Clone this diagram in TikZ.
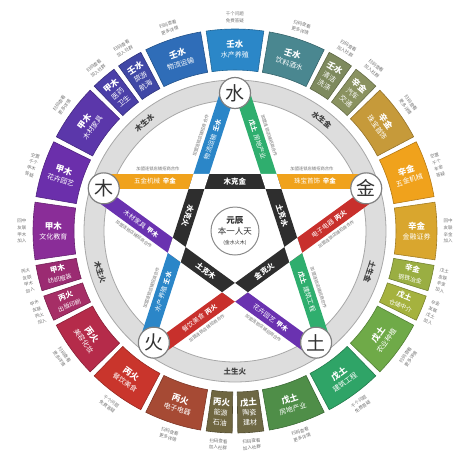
\documentclass[tikz,border=0pt]{standalone}
\usepackage{fontspec}
\setmainfont{Noto Sans CJK SC}
\usetikzlibrary{calc}
\definecolor{sA}{HTML}{D9A62E}
\definecolor{sB}{HTML}{F0A21C}
\definecolor{sC}{HTML}{C69A3A}
\definecolor{sD}{HTML}{8A9260}
\definecolor{sE}{HTML}{7E8A5E}
\definecolor{sF}{HTML}{4A8790}
\definecolor{sG}{HTML}{2B87C8}
\definecolor{sH}{HTML}{2F6DB8}
\definecolor{sI}{HTML}{4048A6}
\definecolor{sJ}{HTML}{4B3FA8}
\definecolor{sK}{HTML}{5B37AA}
\definecolor{sL}{HTML}{6B2FAB}
\definecolor{sM}{HTML}{8A2D98}
\definecolor{sN}{HTML}{9B2B72}
\definecolor{sO}{HTML}{A62E66}
\definecolor{sP}{HTML}{B52B4A}
\definecolor{sQ}{HTML}{C9352C}
\definecolor{sR}{HTML}{A64A34}
\definecolor{sS}{HTML}{6F6640}
\definecolor{sT}{HTML}{6E6844}
\definecolor{sU}{HTML}{4F8E48}
\definecolor{sV}{HTML}{2FA467}
\definecolor{sW}{HTML}{6FAA48}
\definecolor{sX}{HTML}{A5B23E}
\definecolor{sY}{HTML}{9AAE42}
\definecolor{bOrange}{HTML}{F0A21C}
\definecolor{bBlue}{HTML}{2B86C8}
\definecolor{bGreen}{HTML}{2FAE6E}
\definecolor{bPurple}{HTML}{6A32B0}
\definecolor{bRed}{HTML}{C8302C}
\definecolor{bBlack}{HTML}{2E2E2E}
\definecolor{ringfill}{HTML}{DDDDDD}
\definecolor{ringline}{HTML}{A8A8A8}
\newcommand{\ttl}[1]{{\bfseries\fontsize{8.5}{9.5}\selectfont #1}}
\newcommand{\sttl}[1]{{\bfseries\fontsize{7.5}{8.5}\selectfont #1}}
\newcommand{\ssub}[1]{{\fontsize{6}{7}\selectfont #1}}
\tikzset{
  seglabel/.style={text=white, align=center, inner sep=0pt, font=\fontsize{7}{9.8}\selectfont},
  outtext/.style={text=black!55, align=center, inner sep=0pt, font=\fontsize{4.5}{6.6}\selectfont},
  elem/.style={circle, draw=black!50, line width=1.2pt, fill=white, minimum size=31pt, inner sep=0pt, font=\fontsize{19}{19}\selectfont, text=black!80},
  band/.style={line width=15pt},
  bandtext/.style={text=white, inner sep=0pt, font=\fontsize{6.5}{7}\selectfont},
  sidetext/.style={text=black!55, inner sep=0pt, font=\fontsize{4.3}{5}\selectfont},
  ringtext/.style={text=black!75, inner sep=0pt, font=\bfseries\fontsize{7.5}{8}\selectfont},
  blacktext/.style={text=white, inner sep=0pt, font=\bfseries\fontsize{7.5}{8}\selectfont},
}
\newcommand{\seg}[8]{%
  \fill[#3, draw=#3!75!black, line width=0.6pt] ({#1+0.8}:161pt) arc[start angle={#1+0.8}, end angle={#2-0.8}, radius=161pt] -- ({#2-0.8}:202pt) arc[start angle={#2-0.8}, end angle={#1+0.8}, radius=202pt] -- cycle;
  \node[seglabel, rotate=#4] (seg#8) at ({(#1+#2)/2}:181.5pt) {#5};
  \node[outtext, rotate=#4] (out#8) at ({(#1+#2)/2}:#6pt) {#7};
}
\newcommand{\rhomb}[3]{%
  \fill[white] ($(#1)+(#2:7.9pt)+(#3:7.9pt)$) -- ($(#1)+(#2:7.9pt)-(#3:7.9pt)$) -- ($(#1)-(#2:7.9pt)-(#3:7.9pt)$) -- ($(#1)-(#2:7.9pt)+(#3:7.9pt)$) -- cycle;
}
\begin{document}
\begin{tikzpicture}[x=1pt,y=1pt]
\useasboundingbox (-235,-228) rectangle (239,231);

% grey ring
\fill[ringfill, draw=ringline, line width=0.8pt, even odd rule] (0,0) circle (151pt) (0,0) circle (131pt);

% outer ring of sectors
\seg{-9}{9}{sA}{0}{\ttl{辛金}\\金融证券}{213}{回中\\友联\\辛金\\加入}{1}
\seg{9}{27}{sB}{18}{\ttl{辛金}\\五金机械}{213}{空置\\千个\\辛金\\答疑}{2}
\seg{27}{45}{sC}{-54}{\ttl{辛金}\\珠宝首饰}{214}{扫码查看\\更多详情}{3}
\seg{45}{54}{sD}{-40.5}{\ttl{辛金}\\汽车\\交通}{214}{扫码查看\\加入社群}{4}
\seg{54}{63}{sE}{-31.5}{\ttl{壬水}\\清洁\\洗涤}{214}{扫码查看\\加入社群}{5}
\seg{63}{81}{sF}{-18}{\ttl{壬水}\\饮料酒水}{214}{扫码查看\\更多详情}{6}
\seg{81}{99}{sG}{0}{\ttl{壬水}\\水产养殖}{214}{千个问题\\免费答疑}{7}
\seg{99}{117}{sH}{18}{\ttl{壬水}\\物流运输}{214}{扫码查看\\更多详情}{8}
\seg{117}{126}{sI}{31.5}{\ttl{壬水}\\旅游\\航海}{214}{扫码查看\\加入社群}{9}
\seg{126}{135}{sJ}{40.5}{\ttl{甲木}\\医药\\卫生}{214}{扫码查看\\加入社群}{10}
\seg{135}{153}{sK}{54}{\ttl{甲木}\\木材家具}{214}{扫码查看\\更多详情}{11}
\seg{153}{171}{sL}{-18}{\ttl{甲木}\\花卉园艺}{213}{空置\\千个\\甲木\\答疑}{12}
\seg{171}{189}{sM}{0}{\ttl{甲木}\\文化教育}{213}{回中\\友联\\甲木\\加入}{13}
\seg{189}{198}{sN}{13.5}{\sttl{甲木}\\\ssub{纺织服装}}{213}{丙火\\友联\\甲木\\加入}{14}
\seg{198}{207}{sO}{22.5}{\sttl{丙火}\\\ssub{出版印刷}}{213}{甲木\\友联\\丙火\\加入}{15}
\seg{207}{225}{sP}{-54}{\ttl{丙火}\\美容化妆}{214}{扫码查看\\更多详情}{16}
\seg{225}{243}{sQ}{-36}{\ttl{丙火}\\餐饮美食}{214}{千个问题\\免费答疑}{17}
\seg{243}{261}{sR}{-18}{\ttl{丙火}\\电子电器}{214}{扫码查看\\更多详情}{18}
\seg{261}{270}{sS}{-4.5}{\ttl{丙火}\\能源\\石油}{214}{扫码查看\\加入社群}{19}
\seg{270}{279}{sT}{4.5}{\ttl{戊土}\\陶瓷\\建材}{214}{扫码查看\\加入社群}{20}
\seg{279}{297}{sU}{18}{\ttl{戊土}\\房地产业}{214}{扫码查看\\更多详情}{21}
\seg{297}{315}{sV}{36}{\ttl{戊土}\\建筑工程}{214}{千个问题\\免费答疑}{22}
\seg{315}{333}{sW}{54}{\ttl{戊土}\\农业种植}{214}{扫码查看\\更多详情}{23}
\seg{333}{342}{sX}{-22.5}{\sttl{戊土}\\\ssub{仓储中介}}{213}{辛金\\友联\\戊土\\加入}{24}
\seg{342}{351}{sY}{-13.5}{\sttl{辛金}\\\ssub{钢铁冶金}}{213}{戊土\\友联\\辛金\\加入}{25}

% ring labels
\node[ringtext, rotate=40] (r1) at (130:141pt) {木生水};
\node[ringtext, rotate=-38] (r2) at (52:141pt) {水生金};
\node[ringtext, rotate=-73] (r3) at (197:141pt) {木生火};
\node[ringtext] (r4) at (270:141pt) {土生火};
\node[ringtext, rotate=-107] (r5) at (343:141pt) {土生金};

% band geometry: line k has normal angle phi, direction psi
\coordinate (L1p) at ($(90:49.6pt)+(0:131.3pt)$);
\coordinate (L1q) at ($(90:49.6pt)+(0:36pt)$);
\coordinate (L1r) at ($(90:49.6pt)+(0:-36pt)$);
\coordinate (L1s) at ($(90:49.6pt)+(0:-131.3pt)$);
\coordinate (L2p) at ($(162:49.6pt)+(72:131.3pt)$);
\coordinate (L2q) at ($(162:49.6pt)+(72:36pt)$);
\coordinate (L2r) at ($(162:49.6pt)+(72:-36pt)$);
\coordinate (L2s) at ($(162:49.6pt)+(72:-131.3pt)$);
\coordinate (L3p) at ($(18:49.6pt)+(108:131.3pt)$);
\coordinate (L3q) at ($(18:49.6pt)+(108:36pt)$);
\coordinate (L3r) at ($(18:49.6pt)+(108:-36pt)$);
\coordinate (L3s) at ($(18:49.6pt)+(108:-131.3pt)$);
\coordinate (L4p) at ($(234:49.6pt)+(144:131.3pt)$);
\coordinate (L4q) at ($(234:49.6pt)+(144:36pt)$);
\coordinate (L4r) at ($(234:49.6pt)+(144:-36pt)$);
\coordinate (L4s) at ($(234:49.6pt)+(144:-131.3pt)$);
\coordinate (L5p) at ($(306:49.6pt)+(36:131.3pt)$);
\coordinate (L5q) at ($(306:49.6pt)+(36:36pt)$);
\coordinate (L5r) at ($(306:49.6pt)+(36:-36pt)$);
\coordinate (L5s) at ($(306:49.6pt)+(36:-131.3pt)$);

% coloured outer parts
\draw[band, bOrange] (L1p) -- (L1q);  \draw[band, bOrange] (L1r) -- (L1s);
\draw[band, bBlue] (L2p) -- (L2q);    \draw[band, bBlue] (L2r) -- (L2s);
\draw[band, bGreen] (L3p) -- (L3q);   \draw[band, bGreen] (L3r) -- (L3s);
\draw[band, bPurple] (L4p) -- (L4q);  \draw[band, bPurple] (L4r) -- (L4s);
\draw[band, bRed] (L5p) -- (L5q);     \draw[band, bRed] (L5r) -- (L5s);
% black inner parts
\draw[band, bBlack] (L1q) -- (L1r);
\draw[band, bBlack] (L2q) -- (L2r);
\draw[band, bBlack] (L3q) -- (L3r);
\draw[band, bBlack] (L4q) -- (L4r);
\draw[band, bBlack] (L5q) -- (L5r);
% white crossings
\rhomb{L1r}{0}{72}
\rhomb{L1q}{0}{108}
\rhomb{L2r}{72}{144}
\rhomb{L3r}{108}{36}
\rhomb{L4r}{144}{36}

% black labels
\node[blacktext] (k1) at (90:49.6pt) {木克金};
\node[blacktext, rotate=-108] (k2) at (162:49.6pt) {水克火};
\node[blacktext, rotate=-72] (k3) at (18:49.6pt) {土克水};
\node[blacktext, rotate=-36] (k4) at (234:49.6pt) {土克木};
\node[blacktext, rotate=36] (k5) at (306:49.6pt) {金克火};

% band labels
\node[bandtext] (b1) at ($(90:49.6pt)+(0:-80pt)$) {五金机械\, \textbf{辛金}};
\node[bandtext] (b2) at ($(90:49.6pt)+(0:80pt)$) {珠宝首饰\, \textbf{辛金}};
\node[bandtext, rotate=72] (b3) at ($(162:49.6pt)+(72:80pt)$) {物流运输\, \textbf{壬水}};
\node[bandtext, rotate=72] (b4) at ($(162:49.6pt)+(72:-80pt)$) {水产养殖\, \textbf{壬水}};
\node[bandtext, rotate=-72] (b5) at ($(18:49.6pt)+(108:80pt)$) {\textbf{戊土}\, 房地产业};
\node[bandtext, rotate=-72] (b6) at ($(18:49.6pt)+(108:-80pt)$) {\textbf{戊土}\, 建筑工程};
\node[bandtext, rotate=-36] (b7) at ($(234:49.6pt)+(144:80pt)$) {木材家具\, \textbf{甲木}};
\node[bandtext, rotate=-36] (b8) at ($(234:49.6pt)+(144:-80pt)$) {花卉园艺\, \textbf{甲木}};
\node[bandtext, rotate=36] (b9) at ($(306:49.6pt)+(36:80pt)$) {电子电器\, \textbf{丙火}};
\node[bandtext, rotate=36] (b10) at ($(306:49.6pt)+(36:-80pt)$) {餐饮美食\, \textbf{丙火}};

% small grey side texts
\node[sidetext] (g1) at ($(90:62pt)+(0:-77pt)$) {加盟连锁店铺招商合作};
\node[sidetext] (g2) at ($(90:62pt)+(0:77pt)$) {加盟连锁店铺招商合作};
\node[sidetext, rotate=72] (g3) at ($(162:62pt)+(72:80pt)$) {加盟连锁店铺招商合作};
\node[sidetext, rotate=72] (g4) at ($(162:62pt)+(72:-80pt)$) {加盟连锁店铺招商合作};
\node[sidetext, rotate=-72] (g5) at ($(18:62pt)+(108:80pt)$) {加盟连锁店铺招商合作};
\node[sidetext, rotate=-72] (g6) at ($(18:62pt)+(108:-80pt)$) {加盟连锁店铺招商合作};
\node[sidetext, rotate=-36] (g7) at ($(234:62pt)+(144:80pt)$) {加盟连锁店铺招商合作};
\node[sidetext, rotate=-36] (g8) at ($(234:62pt)+(144:-80pt)$) {加盟连锁店铺招商合作};
\node[sidetext, rotate=36] (g9) at ($(306:62pt)+(36:80pt)$) {加盟连锁店铺招商合作};
\node[sidetext, rotate=36] (g10) at ($(306:62pt)+(36:-80pt)$) {加盟连锁店铺招商合作};

% element circles
\node[elem] (shui) at (90:138pt) {水};
\node[elem] (mu) at (162:138pt) {木};
\node[elem] (huo) at (234:138pt) {火};
\node[elem] (tu) at (306:138pt) {土};
\node[elem] (jin) at (18:138pt) {金};

% centre
\node[circle, draw=black!45, line width=1pt, fill=white, minimum size=48pt, inner sep=0pt, align=center, text=black!80, font=\fontsize{8.5}{10.5}\selectfont] (yuan) at (0,0)
  {{\bfseries 元辰}\\本一人天\\{\fontsize{5}{6}\selectfont (金水火木)}};
\end{tikzpicture}
\end{document}
